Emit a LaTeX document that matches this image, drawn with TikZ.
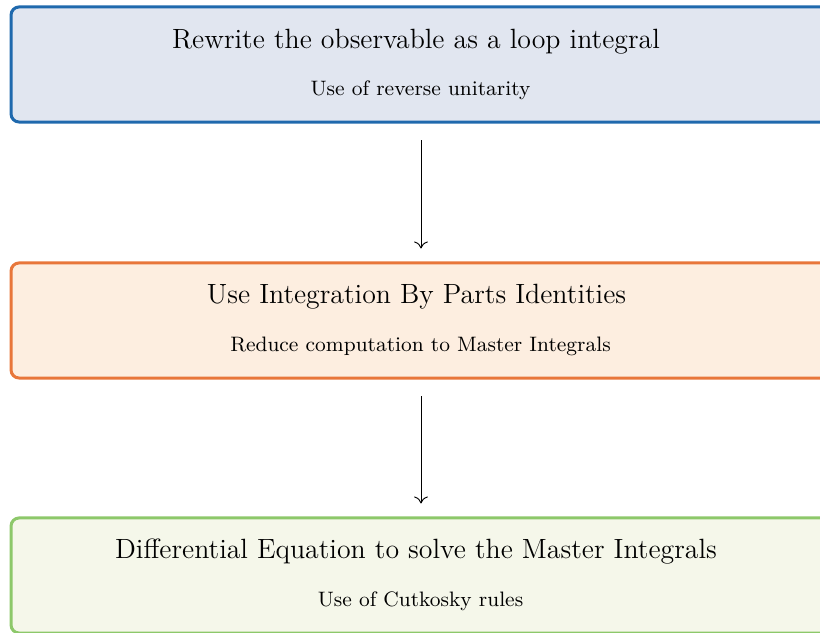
\documentclass[tikz,border=0pt]{standalone}
\usetikzlibrary{arrows.meta}
\definecolor{blueedge}{HTML}{1F69AD}
\definecolor{bluefill}{HTML}{E1E6F0}
\definecolor{orangeedge}{HTML}{E8763A}
\definecolor{orangefill}{HTML}{FDEEE0}
\definecolor{greenedge}{HTML}{8DC86A}
\definecolor{greenfill}{HTML}{F5F7EA}
\tikzset{
  stagebox/.style={draw, rectangle, rounded corners=3.5pt, line width=1.3pt,
    minimum width=353.4pt, minimum height=49.6pt, inner sep=0pt},
  headline/.style={font=\large, inner sep=0pt},
  subline/.style={font=\small, inner sep=0pt},
  flow/.style={-{To[length=3pt,width=6pt]}, line width=0.4pt}
}
\begin{document}
\begin{tikzpicture}[x=0.431pt, y=-0.431pt]
  \useasboundingbox (0,0) rectangle (820,633);
  \clip (0,0) rectangle (820,633);

  \node[stagebox, draw=blueedge, fill=bluefill] (b1) at (421,64.5) {};
  \node[headline] (t1) at (416,42) {Rewrite the observable as a loop integral};
  \node[subline] (s1) at (420.5,90) {Use of reverse unitarity};

  \node[stagebox, draw=orangeedge, fill=orangefill] (b2) at (421,320.5) {};
  \node[headline] (t2) at (416.5,297) {Use Integration By Parts Identities};
  \node[subline] (s2) at (420.5,346) {Reduce computation to Master Integrals};

  \node[stagebox, draw=greenedge, fill=greenfill] (b3) at (421,575.5) {};
  \node[headline] (t3) at (416,552) {Differential Equation to solve the Master Integrals};
  \node[subline] (s3) at (420.5,601) {Use of Cutkosky rules};

  \draw[flow, shorten <=7.2pt, shorten >=5.6pt] (b1.south) -- (b2.north);
  \draw[flow, shorten <=7.2pt, shorten >=5.6pt] (b2.south) -- (b3.north);
\end{tikzpicture}
\end{document}
